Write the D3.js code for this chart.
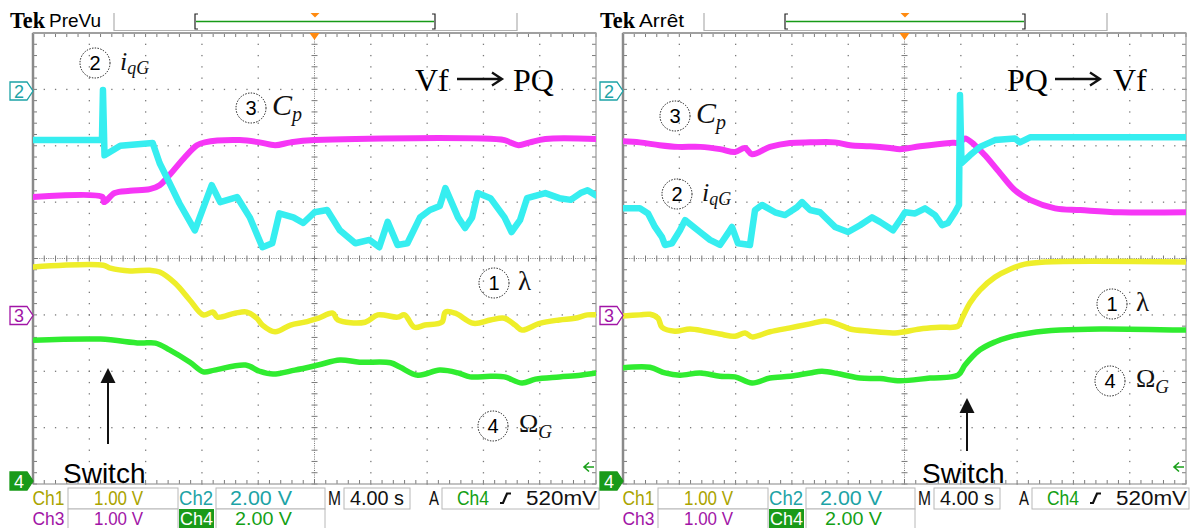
<!DOCTYPE html>
<html>
<head>
<meta charset="utf-8">
<script src="https://cdnjs.cloudflare.com/ajax/libs/d3/7.8.5/d3.min.js"></script>
<style>
  body { margin: 0; background: #fff; }
  svg { display: block; }
</style>
</head>
<body>
<svg width="1193" height="528"></svg>
<script>
// time in s, level in divisions above screen bottom
const leftIqG = [[0,6.10],[4.9,6.10],[4.97,6.99],[5.08,5.83],[6.2,6.0],[8.5,6.05],[9.0,5.69],[9.7,5.34],[10.4,4.98],[11.5,4.50],[12.7,5.30],[13.3,5.00],[14.5,5.09],[15.4,4.73],[16.3,4.20],[17.0,4.27],[17.5,4.80],[18.5,4.73],[19.2,4.63],[20.0,4.82],[20.9,4.86],[21.8,4.50],[22.9,4.27],[23.9,4.33],[24.6,4.20],[25.2,4.65],[25.9,4.24],[26.6,4.27],[27.5,4.73],[28.2,4.86],[28.9,4.93],[29.3,5.25],[30.2,4.73],[30.7,4.54],[31.2,4.73],[31.6,5.16],[32.5,5.07],[33.5,4.73],[34.0,4.47],[34.6,4.68],[35.1,5.07],[36.4,5.16],[37.4,5.07],[38.2,5.04],[38.9,5.16],[39.4,5.21],[40,5.12]];
const leftCp = [[0,5.09],[4.95,5.09],[5.05,5.00],[5.8,5.16],[6.9,5.20],[8.3,5.23],[9.0,5.30],[9.7,5.48],[10.8,5.80],[11.65,6.01],[12.2,6.06],[14.7,6.10],[16.1,6.06],[17.2,6.01],[18.3,6.06],[20.0,6.10],[33.5,6.10],[33.9,6.06],[34.5,6.01],[35.3,6.06],[36.4,6.12],[40,6.12]];
const leftLambda = [[0,3.85],[5.0,3.88],[5.5,3.83],[6.9,3.78],[8.3,3.79],[9.0,3.76],[10.1,3.56],[11.15,3.26],[12.1,3.00],[12.8,3.05],[13.1,2.96],[14.35,3.03],[15.2,3.05],[15.9,2.94],[16.3,2.82],[17.2,2.70],[18.3,2.82],[19.3,2.87],[20.25,2.94],[21.3,3.03],[21.65,2.91],[23.6,2.87],[24.5,3.00],[25.9,2.96],[26.4,3.00],[27.1,2.78],[27.85,2.82],[29.05,2.87],[29.3,3.05],[30.0,3.03],[31.3,2.85],[32.5,2.91],[33.5,2.94],[34.25,2.82],[34.75,2.73],[36.0,2.85],[37.4,2.91],[38.5,2.94],[39.4,3.00],[40,3.00]];
const leftOmega = [[0,2.55],[4.8,2.57],[7.6,2.50],[8.7,2.50],[9.7,2.38],[11.15,2.16],[12.1,1.99],[12.9,2.02],[15.1,2.11],[16.1,2.00],[17.05,1.95],[18.6,2.02],[20.25,2.11],[21.8,2.20],[23.2,2.16],[25.4,2.15],[26.1,2.07],[27.35,1.93],[28.9,2.02],[30.2,1.97],[31.05,1.90],[32.5,1.91],[33.5,1.90],[34.75,1.79],[35.7,1.86],[37.4,1.90],[38.9,1.93],[40,1.97]];

const rightIqG = [[0,4.89],[1.2,4.89],[1.78,4.80],[2.27,4.56],[2.77,4.38],[2.98,4.24],[3.48,4.27],[4.05,4.50],[4.41,4.68],[5.47,4.47],[6.18,4.33],[6.89,4.24],[7.46,4.45],[7.74,4.56],[8.17,4.27],[9.02,4.24],[9.38,4.86],[9.88,4.95],[10.8,4.82],[11.51,4.77],[12.36,4.91],[12.72,5.00],[13.29,4.86],[14.0,4.82],[15.06,4.56],[15.99,4.47],[16.84,4.59],[17.69,4.73],[18.26,4.65],[19.18,4.50],[19.68,4.68],[20.04,4.82],[20.75,4.80],[21.46,4.89],[22.17,4.77],[22.67,4.59],[23.09,4.63],[23.59,4.82],[23.87,4.95],[23.94,6.90],[24.05,5.69],[24.65,5.83],[25.36,5.98],[26.43,6.10],[27.85,6.13],[28.2,6.06],[28.92,6.15],[40,6.15]];
const rightCp = [[0,6.08],[1.2,6.06],[2.6,6.01],[3.9,5.98],[5.5,5.98],[6.9,5.94],[7.96,5.89],[8.67,5.96],[9.17,5.85],[10.44,5.98],[11.87,6.05],[13.3,6.06],[15.06,6.06],[16.13,6.01],[17.55,5.99],[18.97,5.96],[19.68,5.94],[21.1,5.99],[23.23,6.05],[23.94,6.06],[24.3,6.13],[25.0,6.01],[25.72,5.83],[26.8,5.51],[27.85,5.21],[28.92,5.04],[30.7,4.89],[32.5,4.86],[35.3,4.82],[40,4.82]];
const rightLambda = [[0,2.98],[1.2,3.00],[1.92,3.01],[2.49,2.94],[2.77,2.78],[3.69,2.71],[4.76,2.75],[5.83,2.71],[6.89,2.66],[7.96,2.62],[8.67,2.68],[9.17,2.61],[10.44,2.70],[11.87,2.77],[13.29,2.84],[14.35,2.89],[15.42,2.82],[16.13,2.75],[17.55,2.71],[19.33,2.68],[21.1,2.75],[22.52,2.78],[23.8,2.80],[24.09,2.94],[24.65,3.21],[25.36,3.44],[26.43,3.67],[27.5,3.81],[28.56,3.90],[29.98,3.94],[40,3.94]];
const rightOmega = [[0,2.06],[1.92,2.07],[2.98,1.97],[4.05,1.93],[5.47,1.97],[6.89,1.91],[7.96,1.90],[9.17,1.79],[10.44,1.88],[11.87,1.91],[13.29,1.97],[14.14,2.00],[15.42,1.95],[16.84,1.88],[18.26,1.87],[19.68,1.83],[21.81,1.88],[23.8,1.93],[24.3,2.11],[25.36,2.38],[26.43,2.52],[27.5,2.61],[28.92,2.68],[31.05,2.73],[33.9,2.75],[40,2.73]];

const chLabels = ['Ch1', 'Ch2', 'Ch3', 'Ch4'];
const chScales = ['1.00 V', '2.00 V', '1.00 V', '2.00 V'];
const timebase = '4.00 s';
const trigSource = 'Ch4';
const trigLevel = '520mV';
const scopeStates = ['PreVu', 'Arrêt'];
const modeText = [['Vf', 'PQ'], ['PQ', 'Vf']];

const SEC_PER_DIV = 4, NX = 10, NY = 8;
const GW = 563, GH = 451, GY = 33;
const traceColor = { lambda: '#eeee2a', iqG: '#36eef0', cp: '#f636f6', omega: '#30ec30' };
const chText = ['#aaa400', '#1ca3a6', '#a114a6', '#14a014'];

const svg = d3.select('svg');
const serif = '"Liberation Serif", "Times New Roman", serif';
const sans = '"Liberation Sans", Arial, sans-serif';

function panel(cfg) {
  const gx = cfg.gx;
  const x = d3.scaleLinear().domain([0, NX * SEC_PER_DIV]).range([gx, gx + GW]);
  const y = d3.scaleLinear().domain([0, NY]).range([GY + GH, GY]);
  const xd = d3.scaleLinear().domain([0, NX]).range([gx, gx + GW]);
  const g = svg.append('g');

  // header
  g.append('text').attr('x', gx - 23).attr('y', 28)
    .attr('font-family', serif).attr('font-weight', 'bold').attr('font-size', 23)
    .attr('textLength', 35).attr('lengthAdjust', 'spacingAndGlyphs').text('Tek');
  g.append('text').attr('x', gx + 16).attr('y', 27)
    .attr('font-family', sans).attr('font-size', 19)
    .attr('textLength', cfg.stateW).attr('lengthAdjust', 'spacingAndGlyphs').text(cfg.state);
  g.append('path').attr('d', `M${gx + 81},13V30.5H${gx + 484}V13`)
    .attr('fill', 'none').attr('stroke', '#b0b0b0').attr('stroke-width', 1.2);
  g.append('path')
    .attr('d', `M${gx + 165},14H${gx + 162}V29H${gx + 165}M${gx + 399},14H${gx + 402}V29H${gx + 399}`)
    .attr('fill', 'none').attr('stroke', '#222').attr('stroke-width', 1.2);
  g.append('line').attr('x1', gx + 163).attr('x2', gx + 401).attr('y1', 21.5).attr('y2', 21.5)
    .attr('stroke', '#179a17').attr('stroke-width', 1.6);
  g.append('path').attr('d', `M${gx + 277.5},13H${gx + 286.5}L${gx + 282},17.5Z`).attr('fill', '#ff8a10');

  // graticule
  const dots = g.append('g').attr('fill', '#7a7a7a');
  const fineX = d3.range(0, NX * 5 + 1).map(i => i / 5);
  const fineY = d3.range(0, NY * 5 + 1).map(i => i / 5);
  const denseX = d3.range(0, NX * 25 + 1).map(i => i / 25);
  const denseY = d3.range(0, NY * 25 + 1).map(i => i / 25);
  const yd = d3.scaleLinear().domain([0, NY]).range([GY, GY + GH]);
  d3.range(1, NX).filter(i => i !== NX / 2).forEach(i => {
    dots.selectAll(null).data(fineY).enter().append('rect')
      .attr('x', xd(i) - 0.6).attr('y', d => yd(d) - 0.6).attr('width', 1.3).attr('height', 1.3);
  });
  d3.range(1, NY).filter(j => j !== NY / 2).forEach(j => {
    dots.selectAll(null).data(fineX).enter().append('rect')
      .attr('x', d => xd(d) - 0.6).attr('y', yd(j) - 0.6).attr('width', 1.3).attr('height', 1.3);
  });
  // center lines
  dots.selectAll(null).data(denseY).enter().append('rect')
    .attr('x', xd(NX / 2) - 0.5).attr('y', d => yd(d) - 0.5).attr('width', 1).attr('height', 1);
  dots.selectAll(null).data(denseX).enter().append('rect')
    .attr('x', d => xd(d) - 0.5).attr('y', yd(NY / 2) - 0.5).attr('width', 1).attr('height', 1);
  const ticks = g.append('g').attr('stroke', '#7a7a7a').attr('stroke-width', 1);
  ticks.selectAll(null).data(fineY).enter().append('line')
    .attr('x1', xd(NX / 2) - 3).attr('x2', xd(NX / 2) + 3).attr('y1', d => yd(d)).attr('y2', d => yd(d));
  ticks.selectAll(null).data(fineX).enter().append('line')
    .attr('y1', yd(NY / 2) - 3).attr('y2', yd(NY / 2) + 3).attr('x1', d => xd(d)).attr('x2', d => xd(d));
  // edge ticks
  ticks.selectAll(null).data(fineX).enter().append('line')
    .attr('x1', d => xd(d)).attr('x2', d => xd(d)).attr('y1', GY).attr('y2', GY + 4);
  ticks.selectAll(null).data(fineX).enter().append('line')
    .attr('x1', d => xd(d)).attr('x2', d => xd(d)).attr('y1', GY + GH).attr('y2', GY + GH - 4);
  ticks.selectAll(null).data(fineY).enter().append('line')
    .attr('y1', d => yd(d)).attr('y2', d => yd(d)).attr('x1', gx).attr('x2', gx + 4);
  ticks.selectAll(null).data(fineY).enter().append('line')
    .attr('y1', d => yd(d)).attr('y2', d => yd(d)).attr('x1', gx + GW).attr('x2', gx + GW - 4);
  g.append('rect').attr('x', gx).attr('y', GY).attr('width', GW).attr('height', GH)
    .attr('fill', 'none').attr('stroke', '#9a9a9a').attr('stroke-width', 1.2);
  g.append('line').attr('x1', gx).attr('x2', gx).attr('y1', GY).attr('y2', GY + GH)
    .attr('stroke', '#8a8a8a').attr('stroke-width', 2.5);
  g.append('line').attr('x1', gx).attr('x2', gx + GW).attr('y1', GY).attr('y2', GY)
    .attr('stroke', '#a0a0a0').attr('stroke-width', 2);

  // trigger position marker
  g.append('path').attr('d', `M${xd(NX / 2) - 5},${GY}H${xd(NX / 2) + 5}L${xd(NX / 2)},${GY + 7}Z`)
    .attr('fill', '#ff8a10');

  // traces
  const clipId = 'clip' + cfg.id;
  svg.append('clipPath').attr('id', clipId).append('rect')
    .attr('x', gx).attr('y', GY).attr('width', GW).attr('height', GH);
  const smooth = d3.line().x(d => x(d[0])).y(d => y(d[1])).curve(d3.curveCatmullRom.alpha(0.5));
  const sharp = d3.line().x(d => x(d[0])).y(d => y(d[1]));
  const tg = g.append('g').attr('clip-path', `url(#${clipId})`)
    .attr('fill', 'none').attr('stroke-linejoin', 'round').attr('stroke-linecap', 'round');
  [['lambda', cfg.lambda, smooth, 5.5], ['omega', cfg.omega, smooth, 5.5],
   ['cp', cfg.cp, smooth, 6], ['iqG', cfg.iqG, sharp, 6.5]].forEach(([k, data, ln, w]) => {
    tg.append('path').datum(data).attr('d', ln).attr('stroke', traceColor[k]).attr('stroke-width', w);
  });

  // channel ground markers
  const marker = (yc, n, col, filled) => {
    g.append('path')
      .attr('d', `M${gx - 23},${yc - 9}H${gx - 6}L${gx},${yc}L${gx - 6},${yc + 9}H${gx - 23}Z`)
      .attr('fill', filled ? col : '#fff').attr('stroke', col).attr('stroke-width', 1.3);
    g.append('text').attr('x', gx - 14).attr('y', yc + 6.5).attr('text-anchor', 'middle')
      .attr('font-family', sans).attr('font-size', 18)
      .attr('fill', filled ? '#fff' : col).text(n);
  };
  marker(91, '2', chText[1], false);
  marker(315.5, '3', chText[2], false);
  marker(481, '4', '#199a19', true);

  // trigger level arrow at right edge
  g.append('path').attr('d', `M${gx + GW - 2},467H${gx + GW - 12}M${gx + GW - 7},462.5L${gx + GW - 12},467L${gx + GW - 7},471.5`)
    .attr('fill', 'none').attr('stroke', '#1aa01a').attr('stroke-width', 1.6);

  // annotations
  const ann = g.append('g');
  const circled = (cx, cy, n) => {
    ann.append('circle').attr('cx', gx + cx).attr('cy', cy).attr('r', 15)
      .attr('fill', 'none').attr('stroke', '#111').attr('stroke-width', 1).attr('stroke-dasharray', '1.4,1.4');
    ann.append('text').attr('x', gx + cx).attr('y', cy + 7).attr('text-anchor', 'middle')
      .attr('font-family', sans).attr('font-size', 20).text(n);
  };
  const label = (lx, ly, main, sub, mainSize, subSize, italicMain, dy) => {
    const t = ann.append('text').attr('x', gx + lx).attr('y', ly).attr('font-family', serif).attr('fill', '#111');
    t.append('tspan').attr('font-size', mainSize).attr('font-style', italicMain ? 'italic' : 'normal').text(main);
    if (sub) t.append('tspan').attr('font-size', subSize).attr('font-style', 'italic').attr('dy', dy).text(sub);
  };
  const a = cfg.ann;
  circled(a.c2[0], a.c2[1], '2');
  label(a.c2[0] + 25, a.c2[1] + 7, 'i', 'qG', 26, 18, true, 4);
  circled(a.c3[0], a.c3[1], '3');
  label(a.c3[0] + 21, a.c3[1] + 7, 'C', 'p', 30, 20, true, 6);
  circled(a.c1[0], a.c1[1], '1');
  label(a.c1[0] + 24, a.c1[1] + 7, 'λ', null, 27, 0, false, 0);
  circled(a.c4[0], a.c4[1], '4');
  label(a.c4[0] + 26, a.c4[1] + 6, 'Ω', 'G', 26, 19, false, 6);

  // mode change text
  const m = cfg.mode;
  ann.append('text').attr('x', gx + m.x1).attr('y', 91).attr('font-family', serif).attr('font-size', 32)
    .text(m.text[0]);
  ann.append('text').attr('x', gx + m.x2).attr('y', 91).attr('font-family', serif).attr('font-size', 32)
    .text(m.text[1]);
  ann.append('path')
    .attr('d', `M${gx + m.a1},79H${gx + m.a2}M${gx + m.a2 - 10},72.5L${gx + m.a2},79L${gx + m.a2 - 10},85.5`)
    .attr('fill', 'none').attr('stroke', '#111').attr('stroke-width', 2.3);

  // switch arrow
  const s = cfg.sw;
  ann.append('line').attr('x1', gx + s.x).attr('x2', gx + s.x).attr('y1', s.y2).attr('y2', s.y1 + 10)
    .attr('stroke', '#111').attr('stroke-width', 2);
  ann.append('path').attr('d', `M${gx + s.x},${s.y1}L${gx + s.x + 7.5},${s.y1 + 15}H${gx + s.x - 7.5}Z`)
    .attr('fill', '#111');
  ann.append('text').attr('x', gx + s.tx).attr('y', 483).attr('font-family', sans).attr('font-size', 28)
    .text('Switch');

  // status bar
  const st = g.append('g').attr('font-family', sans);
  const box = (x0, x1, y0, y1) => st.append('rect').attr('x', gx + x0).attr('y', y0)
    .attr('width', x1 - x0).attr('height', y1 - y0).attr('fill', '#fff')
    .attr('stroke', '#b8b8b8').attr('stroke-width', 1);
  const txt = (tx, ty, w, str, col, fs) => st.append('text').attr('x', gx + tx).attr('y', ty)
    .attr('font-size', fs || 20)
    .attr('fill', col).attr('textLength', w).attr('lengthAdjust', 'spacingAndGlyphs').text(str);
  box(35, 145, 488, 509); box(183, 292, 488, 509); box(311, 377, 488, 509); box(409, 566, 488, 509);
  box(35, 145, 509, 529); box(183, 292, 509, 529);
  txt(-0.5, 505, 32, chLabels[0], chText[0]);
  txt(61, 505, 49, chScales[0], chText[0]);
  txt(146, 505, 34, chLabels[1], chText[1]);
  txt(197, 505, 62, chScales[1], chText[1]);
  txt(295, 505, 13, 'M', '#111');
  txt(317, 505, 54, timebase, '#111');
  txt(396, 505, 10, 'A', '#111');
  txt(424, 505, 32, trigSource, chText[3]);
  st.append('path').attr('d', `M${gx + 467},503H${gx + 470}L${gx + 474},493.5H${gx + 478}`)
    .attr('fill', 'none').attr('stroke', '#111').attr('stroke-width', 2.2);
  txt(493, 505, 71, trigLevel, '#111');
  txt(-0.5, 525, 32, chLabels[2], chText[2], 18.5);
  txt(61, 525, 49, chScales[2], chText[2], 18.5);
  st.append('rect').attr('x', gx + 146).attr('y', 509).attr('width', 35).attr('height', 19).attr('fill', '#199a19');
  txt(147, 525, 33, chLabels[3], '#fff', 18.5);
  txt(202, 525, 57, chScales[3], chText[3], 18.5);
}

panel({
  id: 'L', gx: 33, state: scopeStates[0], stateW: 52,
  iqG: leftIqG, cp: leftCp, lambda: leftLambda, omega: leftOmega,
  ann: { c2: [62, 63], c3: [218, 108], c1: [461, 283], c4: [460, 426] },
  mode: { text: modeText[0], x1: 382, a1: 424, a2: 469, x2: 480 },
  sw: { x: 75, y1: 368, y2: 444, tx: 30 }
});
panel({
  id: 'R', gx: 623, state: scopeStates[1], stateW: 45,
  iqG: rightIqG, cp: rightCp, lambda: rightLambda, omega: rightOmega,
  ann: { c2: [54, 194], c3: [52, 116], c1: [489, 304], c4: [487, 381] },
  mode: { text: modeText[1], x1: 384, a1: 432, a2: 477, x2: 490 },
  sw: { x: 344, y1: 398, y2: 451, tx: 299 }
});
</script>
</body>
</html>
